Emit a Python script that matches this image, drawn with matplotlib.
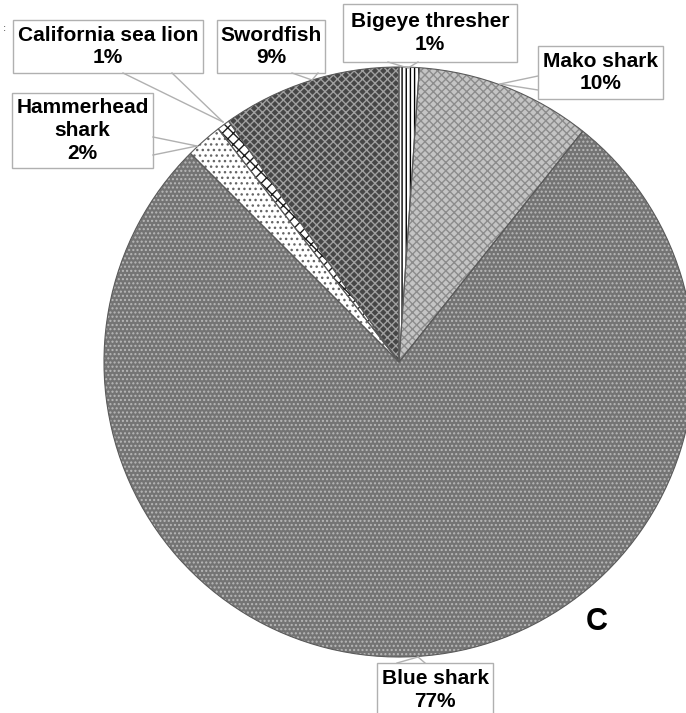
import matplotlib
matplotlib.use("Agg")
import matplotlib.pyplot as plt
from matplotlib.patches import Rectangle

W, H = 686, 713

# species share of catch, clockwise from 12 o'clock
species = ["Bigeye thresher", "Mako shark", "Blue shark",
           "Hammerhead shark", "California sea lion", "Swordfish"]
shares = [1.1, 9.6, 76.8, 2.0, 0.7, 9.8]
pct_labels = ["1%", "10%", "77%", "2%", "1%", "9%"]
label_text = ["Bigeye thresher", "Mako shark", "Blue shark",
              "Hammerhead\nshark", "California sea lion", "Swordfish"]

# fill styles (face, hatch, hatch colour)
faces = ["white", "#c4c4c4", "#747474", "white", "white", "#464646"]
hatches = ["||||", "xxxx", "....", "...", "xxx", "xxxx"]
hatch_cols = ["black", "#8c8c8c", "#b8b8b8", "#666666", "#1e1e1e", "#a0a0a0"]


def py(y):
    # pixel row (top down) -> data y
    return H - y


fig = plt.figure(figsize=(W / 100, H / 100), dpi=100)
ax = fig.add_axes([0, 0, 1, 1])

center = (399, py(362))
radius = 295

wedges, _ = ax.pie(shares, center=center, radius=radius, startangle=90,
                   counterclock=False, frame=True,
                   wedgeprops=dict(linewidth=0))
for w, fc, h, hc in zip(wedges, faces, hatches, hatch_cols):
    w.set_facecolor(fc)
    w.set_hatch(h)
    w.set_edgecolor(hc)

# outlines on top
ax.pie(shares, center=center, radius=radius, startangle=90,
       counterclock=False, frame=True,
       wedgeprops=dict(fill=False, edgecolor="#5a5a5a", linewidth=0.8))

# callout boxes: (x0, y0, x1, y1) in pixels, pointer base points and tip
boxes = {
    "Bigeye thresher": ((343, 4, 517, 62), [(388, 62), (418, 62)], (408, 68)),
    "Mako shark": ((538, 46, 663, 99), [(538, 76), (538, 90)], (500, 84)),
    "Blue shark": ((377, 663, 493, 730), [(397, 663), (425, 663)], (418, 657)),
    "Hammerhead shark": ((12, 93, 153, 168), [(153, 137), (153, 155)], (197, 146)),
    "California sea lion": ((13, 20, 203, 73), [(123, 73), (172, 73)], (223, 122)),
    "Swordfish": ((217, 20, 325, 73), [(292, 73), (318, 73)], (312, 80)),
}

for name, txt, pct in zip(species, label_text, pct_labels):
    (x0, y0, x1, y1), base, tip = boxes[name]
    ax.add_patch(Rectangle((x0, py(y1)), x1 - x0, y1 - y0, facecolor="white",
                           edgecolor="#b0b0b0", linewidth=1.0, zorder=5))
    for bx, by in base:
        ax.plot([bx, tip[0]], [py(by), py(tip[1])], color="#b0b0b0",
                linewidth=1.0, zorder=6)
    ytxt = (y0 + y1) / 2 if name != "Blue shark" else 690
    ax.text((x0 + x1) / 2, py(ytxt), txt + "\n" + pct, ha="center",
            va="center", fontsize=15, fontweight="bold",
            family="Liberation Sans", linespacing=1.25, zorder=7)

ax.text(597, py(622), "C", ha="center", va="center", fontsize=22,
        fontweight="bold", family="Liberation Sans")
ax.text(5, py(28), ":", ha="center", va="center", fontsize=7, color="#444444")

ax.set_xlim(0, W)
ax.set_ylim(0, H)
ax.set_aspect("equal")
ax.axis("off")

fig.savefig("out.png", dpi=100)
